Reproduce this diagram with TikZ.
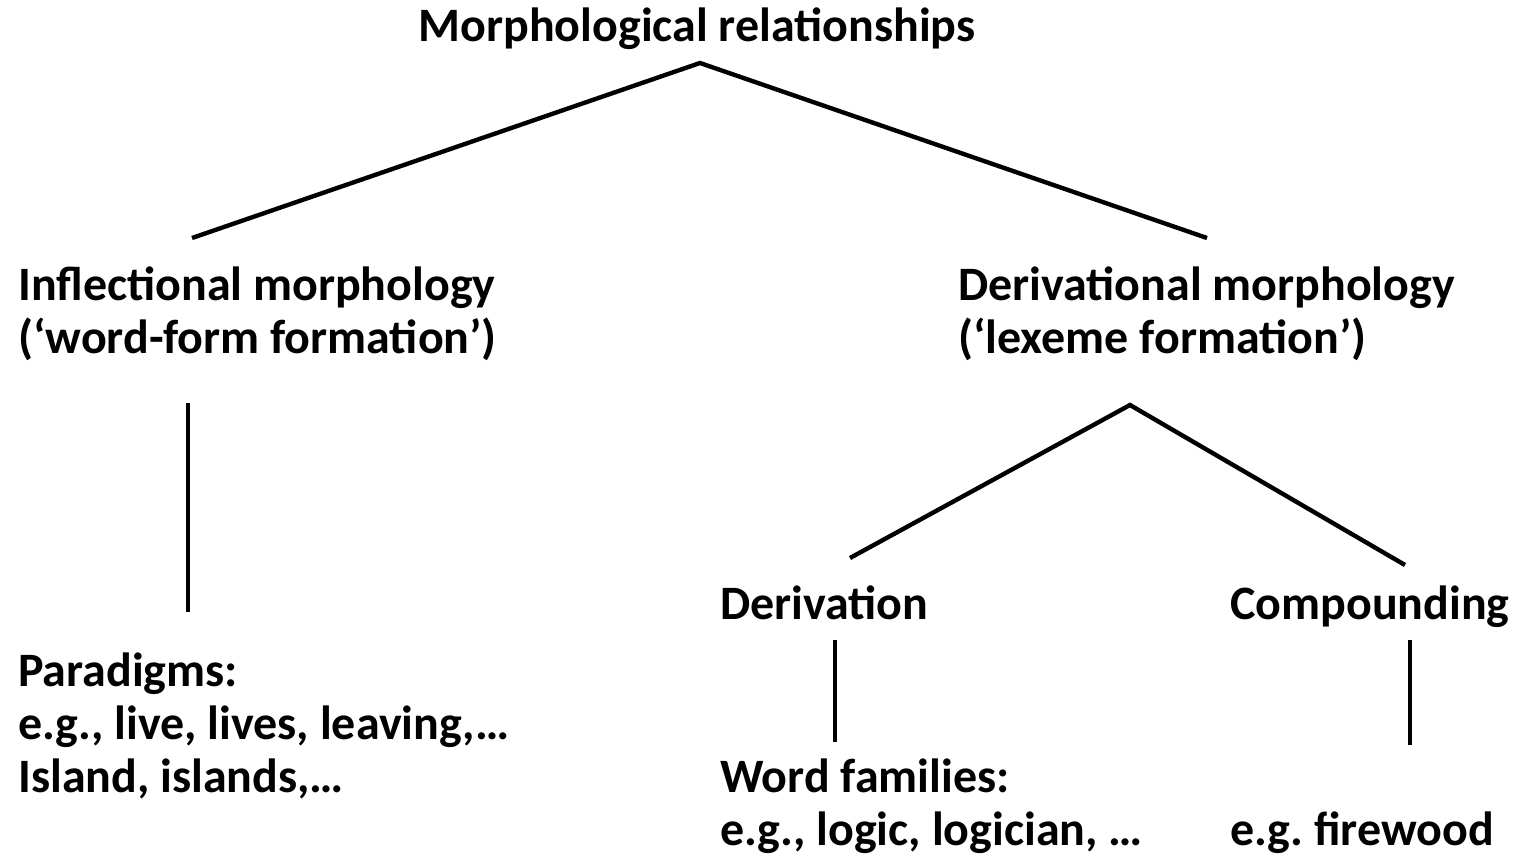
\documentclass[tikz,border=0pt]{standalone}
\usepackage{fontspec}
\setmainfont{Carlito}
\usepackage{tikz}
\usetikzlibrary{positioning}
\frenchspacing

\begin{document}
\begin{tikzpicture}[x=0.02cm, y=-0.02cm, every node/.style={font=\fontsize{27.3}{30}\selectfont\bfseries}, t/.style={anchor=base west,align=left,inner sep=0pt}, l/.style={line width=2.5pt}]
\useasboundingbox (0,0) rectangle (1519,856);
\node[anchor=base,inner sep=0pt] (mr) at (697,41) {Morphological relationships};
\node[t] (inf) at (18,353) {Inflectional morphology\\(`word-form formation')};
\node[t] (der) at (958,353) {Derivational morphology\\(`lexeme formation')};
\node[t] (dn) at (720,619) {Derivation};
\node[t] (cp) at (1230,619) {Compounding};
\node[t] (par) at (18,792) {Paradigms:\\e.g., live, lives, leaving,\dots\\Island, islands,\dots};
\node[t] (wf) at (720,845) {Word families:\\e.g., logic, logician, \dots};
\node[t] (fw) at (1230,845) {e.g. firewood};
% joints
\coordinate (top) at (700,63);
\coordinate (infT) at (192,238);
\coordinate (derT) at (1207,238);
\coordinate (infB) at (188,403);
\coordinate (parT) at (188,612);
\coordinate (derB) at (1130,405);
\coordinate (dnT) at (850,558);
\coordinate (cpT) at (1405,565);
\coordinate (dnB) at (835,640);
\coordinate (wfT) at (835,742);
\coordinate (cpB) at (1410,640);
\coordinate (fwT) at (1410,745);
\draw[l] (infT)--(top)--(derT);
\draw[l] (infB)--(parT);
\draw[l] (dnT)--(derB)--(cpT);
\draw[l] (dnB)--(wfT);
\draw[l] (cpB)--(fwT);
\end{tikzpicture}
\end{document}
